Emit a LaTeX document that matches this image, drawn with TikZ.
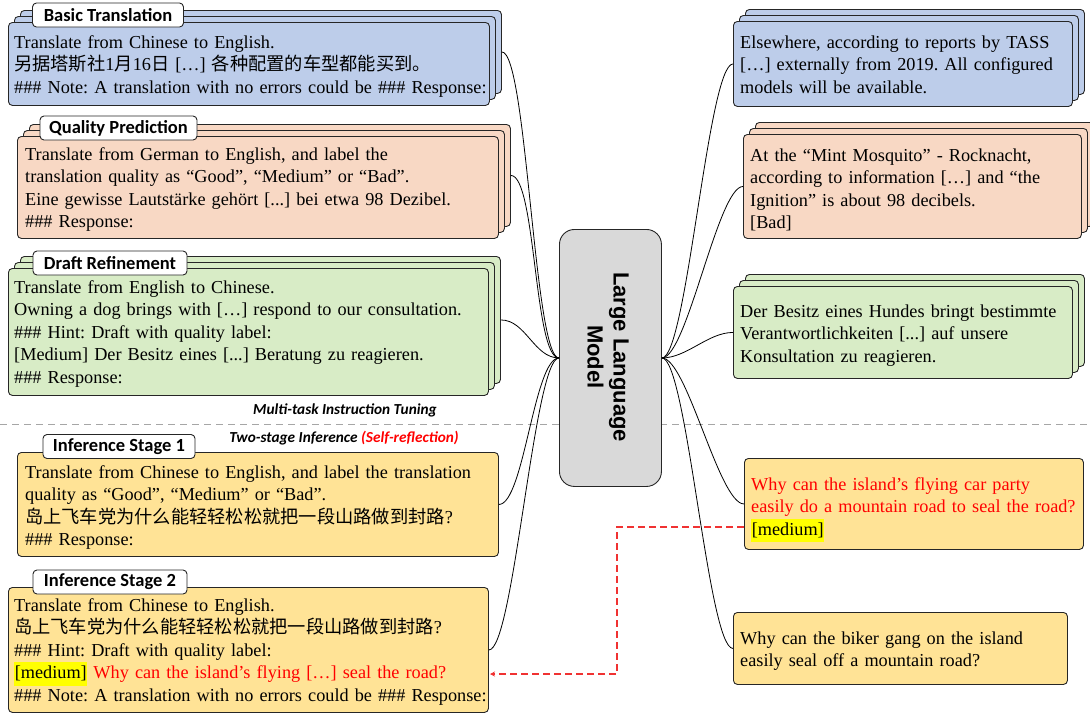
\documentclass[tikz,border=0pt]{standalone}
\usepackage{fontspec}
\setmainfont{Liberation Serif}
\newfontfamily\cjk{Noto Sans CJK SC}
\newfontfamily\tabfont{Carlito}
\newfontfamily\llmfont{Liberation Sans}
\usetikzlibrary{calc,arrows.meta}
\definecolor{cblue}{RGB}{189,205,234}
\definecolor{corange}{RGB}{248,216,196}
\definecolor{cgreen}{RGB}{216,236,198}
\definecolor{cyellow}{RGB}{255,227,150}
\definecolor{cgray}{RGB}{217,217,217}
\definecolor{cred}{RGB}{255,0,0}
\definecolor{cdash}{RGB}{240,50,50}
\definecolor{chl}{RGB}{255,255,0}
\setlength{\fboxsep}{0.6pt}
\frenchspacing
\newcommand\hl[1]{\colorbox{chl}{\strut #1}}
\newcommand\mystack[6]{%
  \node[box,fill=#2,minimum width=#5pt,minimum height=#6pt] (#1c) at (#3+12,#4-12) {};
  \node[box,fill=#2,minimum width=#5pt,minimum height=#6pt] (#1b) at (#3+6,#4-6) {};
  \node[box,fill=#2,minimum width=#5pt,minimum height=#6pt] (#1) at (#3,#4) {};
}
\begin{document}
\begin{tikzpicture}[x=1pt,y=-1pt,
  box/.style={draw=black!85,line width=0.9pt,rounded corners=4pt,inner sep=0pt,anchor=north west},
  tab/.style={draw=black!85,line width=0.9pt,fill=white,rounded corners=4pt,inner sep=0pt,
     minimum height=24pt,font=\tabfont\bfseries\fontsize{18.5}{20}\selectfont},
  txt/.style={anchor=base west,inner sep=0pt,align=left,text width=520pt,
     font=\frenchspacing\fontsize{18.25}{22.5}\selectfont},
  conn/.style={black,line width=0.8pt},
  lbl/.style={inner sep=0pt,font=\tabfont\bfseries\itshape\fontsize{15.3}{17}\selectfont}
]
\useasboundingbox (0,0) rectangle (1090,713);

% separator
\draw[gray!70,line width=1pt,dash pattern=on 7pt off 5pt] (0,424) -- (1090,424);

% LLM
\node[draw=black!85,line width=0.9pt,fill=cgray,rounded corners=15pt,inner sep=0pt,anchor=north west,
  minimum width=102pt,minimum height=257pt] (llm) at (559,229) {};
\node[rotate=-90,align=center,inner sep=0pt,font=\llmfont\bfseries\fontsize{22}{26}\selectfont]
  (llmtxt) at (608,357) {Large Language\\Model};

% left stacks
\mystack{bt}{cblue}{8}{22}{481}{83}
\mystack{qp}{corange}{17}{136}{481}{102}
\mystack{dr}{cgreen}{8}{268}{480}{127}
\node[box,fill=cyellow,minimum width=481pt,minimum height=104pt] (ia) at (17,452) {};
\node[box,fill=cyellow,minimum width=480pt,minimum height=125pt] (ib) at (8,587) {};

% right stacks
\mystack{rb}{cblue}{733}{21}{339}{85}
\mystack{ro}{corange}{743}{134}{338}{104}
\mystack{rg}{cgreen}{733}{286}{339}{92}
\node[box,fill=cyellow,minimum width=339pt,minimum height=91pt] (ya) at (744,458) {};
\node[box,fill=cyellow,minimum width=334pt,minimum height=72pt] (yb) at (733,612) {};

% tabs
\node[tab,minimum width=151pt] (bttab) at (108,15) {Basic Translation};
\node[tab,minimum width=157pt] (qptab) at (118.5,128) {Quality Prediction};
\node[tab,minimum width=154pt] (drtab) at (110,263) {Draft Refinement};
\node[tab,minimum width=152pt] (iatab) at (119,446.5) {Inference Stage 1};
\node[tab,minimum width=154pt] (ibtab) at (110,582) {Inference Stage 2};

% texts left
\node[txt] (bttxt) at (14,48) {Translate from Chinese to English.\\
{\cjk 另据塔斯社}1{\cjk 月}16{\cjk 日} […] {\cjk 各种配置的车型都能买到。}\\
\#\#\# Note: A translation with no errors could be \#\#\# Response:};
\node[txt] (qptxt) at (25,160) {Translate from German to English, and label the\\
translation quality as “Good”, “Medium” or “Bad”.\\
Eine gewisse Lautstärke gehört [...] bei etwa 98 Dezibel.\\
\#\#\# Response:};
\node[txt] (drtxt) at (14,293) {Translate from English to Chinese.\\
Owning a dog brings with […] respond to our consultation.\\
\#\#\# Hint: Draft with quality label:\\
{[}Medium] Der Besitz eines [...] Beratung zu reagieren.\\
\#\#\# Response:};
\node[txt] (iatxt) at (25,478) {Translate from Chinese to English, and label the translation\\
quality as “Good”, “Medium” or “Bad”.\\
{\cjk 岛上飞车党为什么能轻轻松松就把一段山路做到封路}?\\
\#\#\# Response:};
\node[txt] (ibtxt) at (14,611) {Translate from Chinese to English.\\
{\cjk 岛上飞车党为什么能轻轻松松就把一段山路做到封路}?\\
\#\#\# Hint: Draft with quality label:\\
\hl{[medium]} \textcolor{cred}{Why can the island’s flying […] seal the road?}\\
\#\#\# Note: A translation with no errors could be \#\#\# Response:};

% texts right
\node[txt] (rbtxt) at (740,48) {Elsewhere, according to reports by TASS\\
{[}…] externally from 2019. All configured\\
models will be available.};
\node[txt] (rotxt) at (750,161) {At the “Mint Mosquito” - Rocknacht,\\
according to information […] and “the\\
Ignition” is about 98 decibels.\\
{[}Bad]};
\node[txt] (rgtxt) at (740,317) {Der Besitz eines Hundes bringt bestimmte\\
Verantwortlichkeiten [...] auf unsere\\
Konsultation zu reagieren.};
\node[txt] (yatxt) at (751,490) {\textcolor{cred}{Why can the island’s flying car party}\\
\textcolor{cred}{easily do a mountain road to seal the road?}\\
\hl{[medium]}};
\node[txt] (ybtxt) at (740,644) {Why can the biker gang on the island\\
easily seal off a mountain road?};

% labels
\node[lbl] (mt) at (345,410) {Multi-task Instruction Tuning};
\node[lbl] (ts) at (344,438) {Two-stage Inference \textcolor{cred}{(Self-reflection)}};

% connectors
\draw[conn] (btc.east) to[out=0,in=180,distance=25pt] (llm.west);
\draw[conn] (qpc.east) to[out=0,in=180,distance=25pt] (llm.west);
\draw[conn] (drc.east) to[out=0,in=180,distance=25pt] (llm.west);
\draw[conn] (ia.east) to[out=0,in=180,distance=25pt] (llm.west);
\draw[conn] (ib.east) to[out=0,in=180,distance=25pt] (llm.west);
\draw[conn] (llm.east) to[out=0,in=180,distance=25pt] (rb.west);
\draw[conn] (llm.east) to[out=0,in=180,distance=25pt] (ro.west);
\draw[conn] (llm.east) to[out=0,in=180,distance=25pt] (rg.west);
\draw[conn] (llm.east) to[out=0,in=180,distance=25pt] (ya.west);
\draw[conn] (llm.east) to[out=0,in=180,distance=25pt] (yb.west);

% red dashed feedback
\coordinate (redA) at (744,527);
\coordinate (redM) at (617,600);
\coordinate (redB) at (490,674);
\draw[cdash,line width=1.3pt,dash pattern=on 7pt off 4pt,-{Stealth[length=5pt,width=5pt]}]
  (redA) -- (redA -| redM) |- (redB);
\end{tikzpicture}
\end{document}
